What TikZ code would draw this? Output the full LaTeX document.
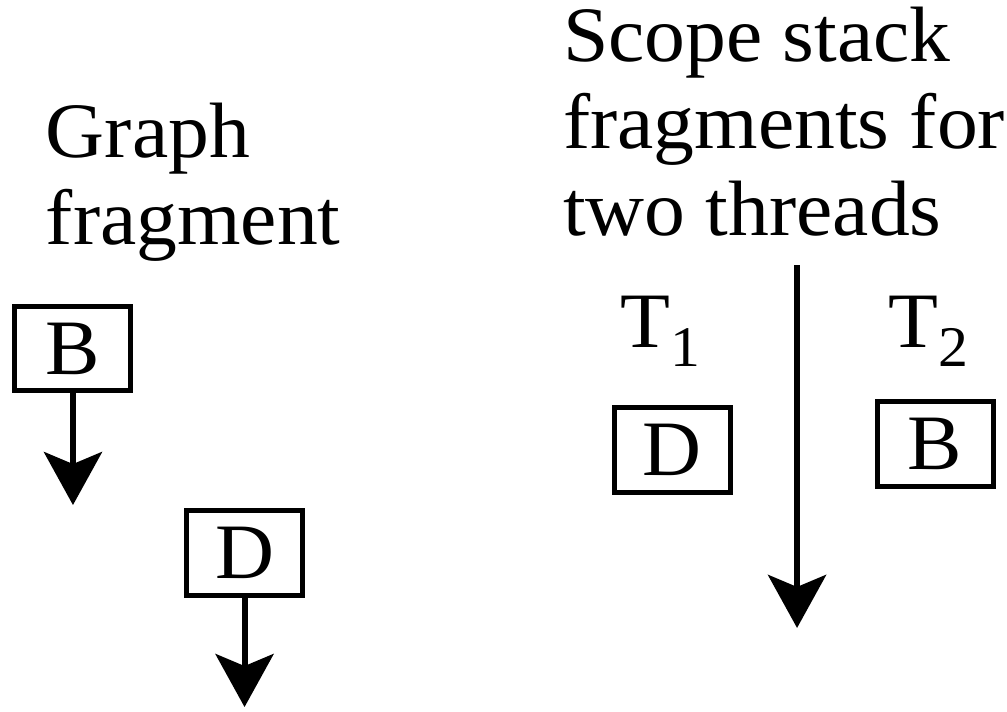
\documentclass[tikz,border=0pt]{standalone}
\usepackage{fontspec}
\setmainfont{Liberation Serif}[FakeStretch = 1.04]
\usepackage{tikz}
\usetikzlibrary{arrows.meta,positioning}

\begin{document}
\begin{tikzpicture}[
				scale = 1,
				every node/.style = {font = \fontsize{15.7}{17.4}\selectfont},
				box/.style = {draw, line width = 1pt, minimum width = 23.2pt, minimum height = 16.9pt, inner sep = 0pt},
				title/.style = {align = left, anchor = base west, inner sep = 0pt},
				flow/.style = {-{Stealth[length = 10.6pt, width = 11.6pt, inset = 2.4pt]}, line width = 1.2pt}
				]
				\useasboundingbox (0,0) rectangle (7.079,-4.998);
				
				% graph fragment (base = last line)
				\node [title] (graphtitle) at (0.316,-1.722) {Graph\\fragment};
				\node [box] (Bg) at (0.513,-2.450) {B};
				\node [box] (Dg) at (1.719,-3.887) {D};
				\coordinate (Bgend) at (0.513,-3.550);
				\coordinate (Dgend) at (1.719,-4.970);
				\draw [flow] (Bg) -- (Bgend);
				\draw [flow] (Dg) -- (Dgend);
				
				% scope stacks of the two threads
				\node [title] (stacktitle) at (3.951,-1.652) {Scope stack\\fragments for\\two threads};
				\node [anchor = base west, inner sep = 0pt] (Tone) at (4.358,-2.446) {T\raisebox{-3.8pt}{\fontsize{11.5}{13}\selectfont 1}};
				\node [anchor = base west, inner sep = 0pt] (Ttwo) at (6.242,-2.446) {T\raisebox{-3.8pt}{\fontsize{11.5}{13}\selectfont 2}};
				\node [box] (Done) at (4.724,-3.163) {D};
				\node [box] (Btwo) at (6.573,-3.121) {B};
				\coordinate (timetop) at (5.603,-1.863);
				\coordinate (timeend) at (5.603,-4.414);
				\draw [flow] (timetop) -- (timeend);
			\end{tikzpicture}
\end{document}
